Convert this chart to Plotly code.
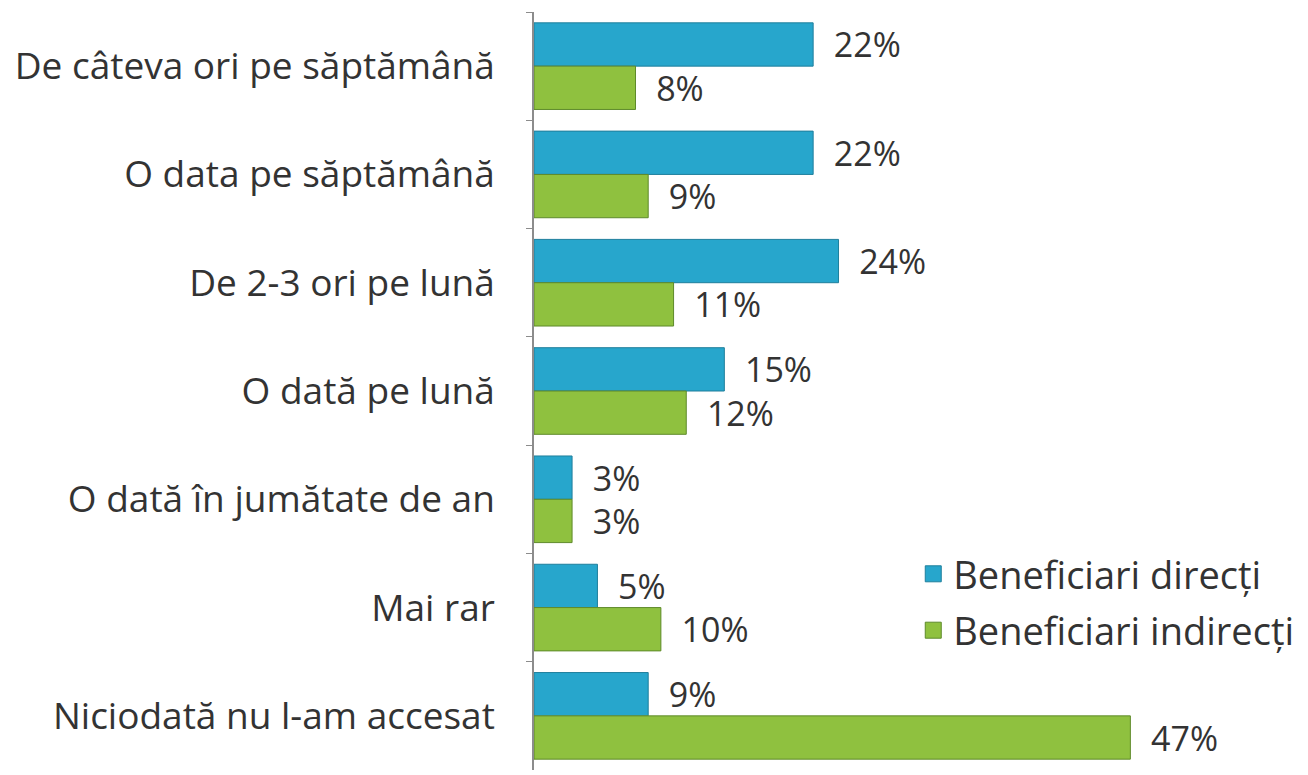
import plotly.graph_objects as go

# Survey categories (top to bottom) and shares in percent
categories = [
    "De câteva ori pe săptămână",
    "O data pe săptămână",
    "De 2-3 ori pe lună",
    "O dată pe lună",
    "O dată în jumătate de an",
    "Mai rar",
    "Niciodată nu l-am accesat",
]
direct_share = [22, 22, 24, 15, 3, 5, 9]
indirect_share = [8, 9, 11, 12, 3, 10, 47]
series_names = ["Beneficiari direcți", "Beneficiari indirecți"]

FONT = "Open Sans"
TEXT_COLOR = "#333333"
FILL = ["#27a6cc", "#8fc13f"]
EDGE = ["#1f7f9c", "#5e8a2a"]

fig = go.Figure()
for i, values in enumerate([direct_share, indirect_share]):
    fig.add_trace(go.Bar(
        name=series_names[i], y=categories, x=values, orientation="h",
        marker=dict(color=FILL[i], line=dict(color=EDGE[i], width=1)),
        text=values, texttemplate="  %{x}%", textposition="outside",
        constraintext="none", cliponaxis=False,
        textfont=dict(family=FONT, size=34, color=TEXT_COLOR),
        legendgroup=series_names[i], showlegend=False,
    ))
# Legend keys drawn as larger squares
for i in range(2):
    fig.add_trace(go.Scatter(
        name=series_names[i], x=[None], y=[None], mode="markers",
        marker=dict(symbol="square", size=22, color=FILL[i],
                    line=dict(color=EDGE[i], width=1)),
        legendgroup=series_names[i], showlegend=True,
    ))

fig.update_layout(
    width=1308, height=775,
    margin=dict(l=534, r=0, t=12, b=5),
    barmode="group", bargap=0.2, bargroupgap=0,
    plot_bgcolor="white", paper_bgcolor="white",
    font=dict(family=FONT, size=37, color=TEXT_COLOR),
    showlegend=True,
    legend=dict(x=0.49, y=0.3, xanchor="left", yanchor="top",
                font=dict(family=FONT, size=38, color=TEXT_COLOR),
                bgcolor="rgba(0,0,0,0)", tracegroupgap=4, itemwidth=30),
)
fig.update_xaxes(range=[0, 61], visible=False, showgrid=False, zeroline=False)
fig.update_yaxes(
    autorange="reversed", type="category",
    showline=True, linecolor="#8c8c8c", linewidth=1.5,
    ticks="outside", tickson="boundaries", ticklen=6, tickcolor="#8c8c8c",
    ticklabelstandoff=30, showgrid=False,
    tickfont=dict(family=FONT, size=37, color=TEXT_COLOR),
)

fig.write_html("out.html")
